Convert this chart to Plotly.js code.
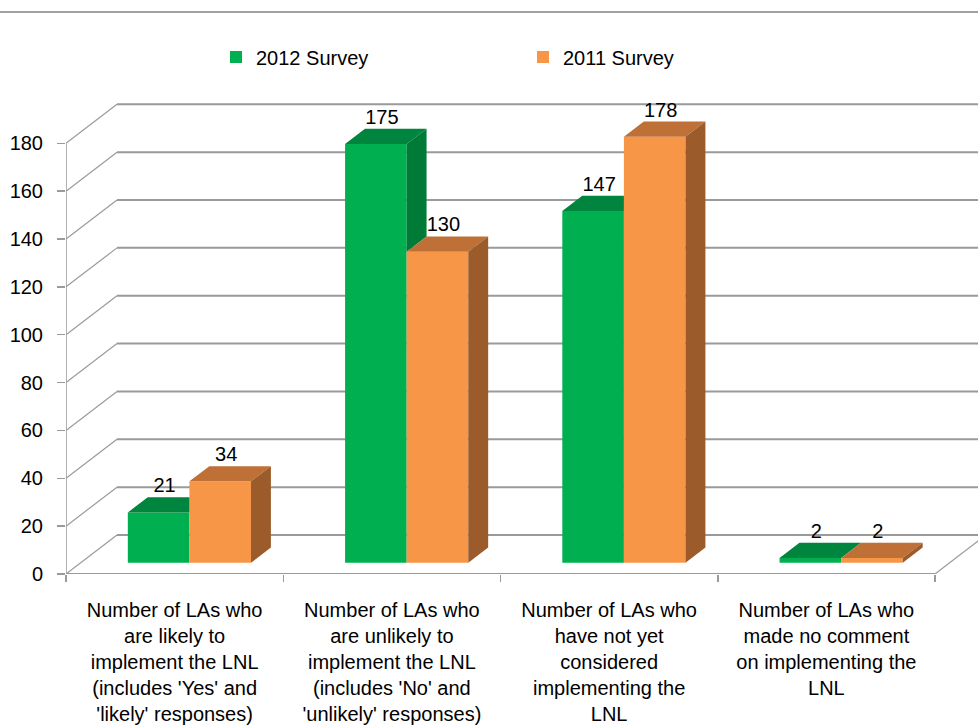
<!DOCTYPE html>
<html><head><meta charset="utf-8">
<script src="https://cdn.plot.ly/plotly-3.0.1.min.js"></script>
<style>html,body{margin:0;padding:0;background:#fff}#chart{width:978px;height:725px}</style>
</head><body><div id="chart"></div>
<script>
// ---------- DATA ----------
const categories = [
  "Number of LAs who<br>are likely to<br>implement the LNL<br>(includes 'Yes' and<br>'likely' responses)",
  "Number of LAs who<br>are unlikely to<br>implement the LNL<br>(includes 'No' and<br>'unlikely' responses)",
  "Number of LAs who<br>have not yet<br>considered<br>implementing the<br>LNL",
  "Number of LAs who<br>made no comment<br>on implementing the<br>LNL"
];
const seriesNames = ["2012 Survey", "2011 Survey"];
const values2012 = [21, 175, 147, 2];
const values2011 = [34, 130, 178, 2];
const yTickVals = [0, 20, 40, 60, 80, 100, 120, 140, 160, 180];

// ---------- GEOMETRY / STYLE ----------
const W = 978, H = 725, mL = 66, mR = 0, mT = 100, mB = 151;
const plotW = W - mL - mR, plotH = H - mT - mB;
const yMax = 198.1;
const pxY = plotH / yMax;
const catPx = 217.25;
const xMin = -0.5, xMax = xMin + plotW / catPx;
const depthX = 51 / catPx, depthY = 39 / pxY;
const f0 = 0.29, f1 = 0.68;
const barW = 61.6 / catPx;
const sx = f0 * depthX, B0 = f0 * depthY;
const ddx = (f1 - f0) * depthX, ddy = (f1 - f0) * depthY;
const gridColor = '#9a9a9a';
const colors = {
  gFront: '#00B050', gTop: '#00853E', gSide: '#007A37',
  oFront: '#F79646', oTop: '#BE7036', oSide: '#9B5B2A'
};
const idx = categories.map((_, i) => i);

// fronts (bars)
const barG = {type: 'bar', name: seriesNames[0], x: idx.map(i => i + sx), y: values2012,
  base: B0, width: barW, offset: -barW, marker: {color: colors.gFront, line: {width: 0}}, hoverinfo: 'skip'};
const barO = {type: 'bar', name: seriesNames[1], x: idx.map(i => i + sx), y: values2011,
  base: B0, width: barW, offset: 0, marker: {color: colors.oFront, line: {width: 0}}, hoverinfo: 'skip'};

// top & side faces computed from the data
const gTopX = [], gTopY = [], gSideX = [], gSideY = [], oTopX = [], oTopY = [], oSideX = [], oSideY = [];
idx.forEach(i => {
  const g = values2012[i], o = values2011[i];
  const Tg = B0 + g, To = B0 + o;
  const gl = i + sx - barW, gr = i + sx;
  const ol = gr, or = gr + barW;
  if (To >= Tg + ddy) {
    gTopX.push(gl, gr, gr, gl + ddx, null); gTopY.push(Tg, Tg, Tg + ddy, Tg + ddy, null);
  } else {
    gTopX.push(gl, gr, gr + ddx, gl + ddx, null); gTopY.push(Tg, Tg, Tg + ddy, Tg + ddy, null);
  }
  if (Tg > To) {
    gSideX.push(gr, gr + ddx, gr + ddx, gr, null); gSideY.push(To, To + ddy, Tg + ddy, Tg, null);
  }
  oTopX.push(ol, or, or + ddx, ol + ddx, null); oTopY.push(To, To, To + ddy, To + ddy, null);
  oSideX.push(or, or + ddx, or + ddx, or, null); oSideY.push(B0, B0 + ddy, To + ddy, To, null);
});
function face(x, y, c) {
  return {type: 'scatter', x: x, y: y, mode: 'lines', fill: 'toself', fillcolor: c,
    line: {width: 0, color: c}, showlegend: false, hoverinfo: 'skip'};
}
const labG = {type: 'scatter', mode: 'text', x: idx.map(i => i + sx - barW / 2 + 0.3 * ddx),
  y: values2012.map(v => B0 + v + ddy), text: values2012.map(String), textposition: 'top center',
  textfont: {size: 20, color: '#000'}, showlegend: false, hoverinfo: 'skip', cliponaxis: false};
const labO = {type: 'scatter', mode: 'text', x: idx.map(i => i + sx + barW / 2 + 0.3 * ddx),
  y: values2011.map(v => B0 + v + ddy), text: values2011.map(String), textposition: 'top center',
  textfont: {size: 20, color: '#000'}, showlegend: false, hoverinfo: 'skip', cliponaxis: false};

// walls / gridlines as shapes below traces
const shapes = [];
const ln = (x0, y0, x1, y1, w) => ({type: 'line', xref: 'x', yref: 'y', x0, y0, x1, y1, layer: 'below',
  line: {color: gridColor, width: w || 1.5}});
yTickVals.forEach(v => {
  shapes.push(ln(xMin + depthX, v + depthY, xMax, v + depthY, 2));
  shapes.push(ln(xMin, v, xMin + depthX, v + depthY, 1.2));
});
const xEnd = xMin + categories.length;
shapes.push(ln(xEnd, 0, xEnd + depthX, depthY, 1.2));
shapes.push(ln(xMin, 0, xMin, yTickVals[yTickVals.length - 1], 1.5));
shapes.push(ln(xMin, 0, xEnd, 0, 2));
shapes.push({type: 'line', xref: 'paper', yref: 'paper', x0: -mL / plotW, x1: 1, y0: (H - mB - 12) / plotH, y1: (H - mB - 12) / plotH,
  line: {color: '#a0a0a0', width: 2}});

const layout = {
  width: W, height: H, margin: {l: mL, r: mR, t: mT, b: mB, pad: 0},
  paper_bgcolor: '#fff', plot_bgcolor: 'rgba(0,0,0,0)',
  font: {family: 'Liberation Sans, Arial, sans-serif', size: 20, color: '#000'},
  barmode: 'overlay', showlegend: true,
  legend: {orientation: 'h', x: (216 - mL) / plotW, y: (H - mB - 57) / plotH, xanchor: 'left', yanchor: 'middle',
    entrywidth: 262, entrywidthmode: 'pixels', font: {size: 20, color: '#000'}, bgcolor: 'rgba(0,0,0,0)', traceorder: 'normal'},
  xaxis: {type: 'linear', range: [xMin, xMax], tickmode: 'array', tickvals: idx, ticktext: categories,
    ticks: '', showgrid: false, zeroline: false, showline: false, fixedrange: true,
    tickfont: {size: 20, color: '#000'}, ticklabelstandoff: 22,
    minor: {tickmode: 'array', tickvals: [-0.5, 0.5, 1.5, 2.5, 3.5], ticks: 'outside', ticklen: 7, tickwidth: 1.5, tickcolor: gridColor, showgrid: false}},
  yaxis: {range: [0, yMax], tickmode: 'array', tickvals: yTickVals, ticks: 'outside', ticklen: 8, tickwidth: 1.5,
    tickcolor: gridColor, showgrid: false, zeroline: false, showline: false, fixedrange: true,
    tickfont: {size: 20, color: '#000'}, ticklabelstandoff: 10},
  shapes: shapes
};
const data = [barG, barO, face(gTopX, gTopY, colors.gTop), face(gSideX, gSideY, colors.gSide),
  face(oTopX, oTopY, colors.oTop), face(oSideX, oSideY, colors.oSide), labG, labO];
Plotly.newPlot('chart', data, layout, {displayModeBar: false, staticPlot: true});
</script></body></html>
